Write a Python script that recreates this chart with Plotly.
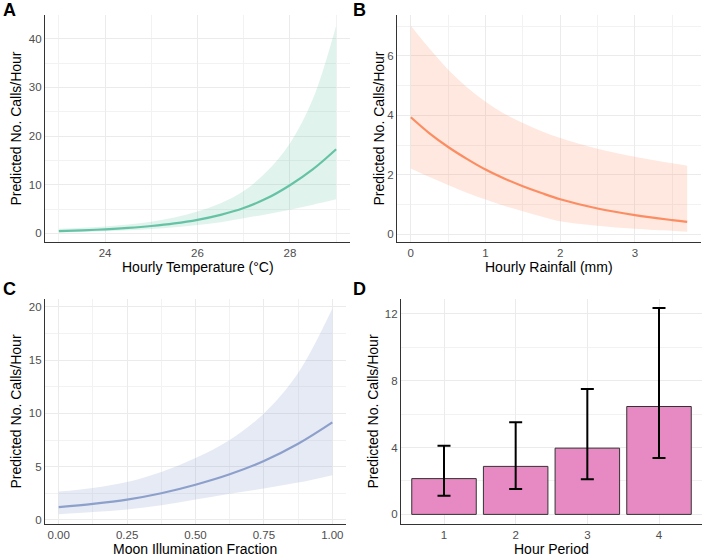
import plotly.graph_objects as go

W, H = 702, 557

# ---------------- data ----------------
temp_x = [23, 23.5, 24, 24.5, 25, 25.5, 26, 26.5, 27, 27.5, 28, 28.5, 29]
temp_mean = [0.45, 0.62, 0.84, 1.13, 1.52, 2.05, 2.78, 3.8, 5.2, 7.2, 9.9, 13.2, 17.3]
temp_upper = [0.95, 1.15, 1.4, 1.8, 2.4, 3.25, 4.5, 6.2, 8.7, 12.7, 18.5, 27.7, 42.7]
temp_lower = [0.2, 0.3, 0.45, 0.65, 0.9, 1.25, 1.7, 2.3, 3.1, 3.95, 4.85, 5.9, 7.0]

rain_x = [0, 0.25, 0.5, 0.75, 1.0, 1.25, 1.5, 1.75, 2.0, 2.5, 3.0, 3.5, 3.7]
rain_mean = [3.94, 3.40, 2.94, 2.54, 2.18, 1.88, 1.62, 1.39, 1.18, 0.87, 0.65, 0.48, 0.42]
rain_upper = [7.02, 6.25, 5.54, 4.95, 4.46, 4.06, 3.75, 3.47, 3.24, 2.88, 2.61, 2.39, 2.31]
rain_lower = [2.22, 1.93, 1.66, 1.40, 1.17, 0.96, 0.78, 0.60, 0.44, 0.29, 0.19, 0.12, 0.09]

moon_x = [0, 0.125, 0.25, 0.375, 0.5, 0.625, 0.75, 0.875, 1.0]
moon_mean = [1.2, 1.5, 1.9, 2.5, 3.3, 4.28, 5.53, 7.15, 9.16]
moon_upper = [2.66, 3.0, 3.55, 4.5, 5.8, 7.5, 10.0, 13.8, 19.85]
moon_lower = [0.53, 0.74, 0.98, 1.36, 1.9, 2.45, 2.95, 3.5, 4.2]

hour_period = ["1", "2", "3", "4"]
hour_mean = [2.14, 2.87, 3.96, 6.45]
hour_upper = [4.11, 5.51, 7.50, 12.34]
hour_lower = [1.11, 1.52, 2.10, 3.37]

y_title = "Predicted No. Calls/Hour"

# ---------------- styling ----------------
FONT = "Liberation Sans, Arial, Helvetica, sans-serif"
GRID = "#EBEBEB"
MINOR = "#F2F2F2"
AXLINE = "#333333"
TICKC = "#4D4D4D"
TICKSIZE = 11.5

def px_x(p):
    return p / W

def px_y(p):
    return 1 - p / H

fig = go.Figure()

def band(x, lo, hi, fillc, linec, mean, xa, ya):
    fig.add_trace(go.Scatter(x=x, y=lo, mode="lines", line=dict(width=0, shape="spline"),
                             hoverinfo="skip", showlegend=False, xaxis=xa, yaxis=ya))
    fig.add_trace(go.Scatter(x=x, y=hi, mode="lines", line=dict(width=0, shape="spline"),
                             fill="tonexty", fillcolor=fillc, hoverinfo="skip",
                             showlegend=False, xaxis=xa, yaxis=ya))
    fig.add_trace(go.Scatter(x=x, y=mean, mode="lines", line=dict(width=2.2, color=linec, shape="spline"),
                             showlegend=False, xaxis=xa, yaxis=ya))

band(temp_x, temp_lower, temp_upper, "rgba(102,194,165,0.2)", "#66C2A5", temp_mean, "x", "y")
band(rain_x, rain_lower, rain_upper, "rgba(252,141,98,0.2)", "#FC8D62", rain_mean, "x2", "y2")
band(moon_x, moon_lower, moon_upper, "rgba(141,160,203,0.22)", "#8DA0CB", moon_mean, "x3", "y3")

fig.add_trace(go.Bar(
    x=hour_period, y=hour_mean, width=0.9,
    marker=dict(color="#E78AC3", line=dict(color="#333333", width=1)),
    error_y=dict(type="data", symmetric=False,
                 array=[u - m for u, m in zip(hour_upper, hour_mean)],
                 arrayminus=[m - l for m, l in zip(hour_mean, hour_lower)],
                 color="black", thickness=2, width=6.5),
    showlegend=False, xaxis="x4", yaxis="y4"))

def axis(domain, rng, tick0, dtick, mtick0, mdtick, fmt=None, anchor=None):
    d = dict(domain=domain, range=rng, tick0=tick0, dtick=dtick, tickmode="linear",
             showgrid=True, gridcolor=GRID, gridwidth=1, zeroline=False,
             showline=True, linecolor=AXLINE, linewidth=1.3, ticks="",
             tickfont=dict(size=TICKSIZE, color=TICKC, family=FONT), anchor=anchor)
    if mdtick is not None:
        d["minor"] = dict(showgrid=True, gridcolor=MINOR, gridwidth=0.8, tick0=mtick0, dtick=mdtick)
    if fmt:
        d["tickformat"] = fmt
    return d

# panel pixel boxes
A = (45, 350, 15, 243)
B = (397, 701, 15, 243)
C = (45, 346, 300, 526)
D = (401, 702, 300, 526)

def dom(box):
    x0, x1, y0, y1 = box
    return [px_x(x0), px_x(x1)], [px_y(y1), px_y(y0)]

ax, ay = dom(A)
bx, by = dom(B)
cx, cy = dom(C)
dx, dy = dom(D)

layout = dict(
    width=W, height=H, margin=dict(l=0, r=0, t=0, b=0),
    paper_bgcolor="white", plot_bgcolor="white",
    font=dict(family=FONT, color="black"),
    bargap=0.1,
    xaxis=axis(ax, [22.7, 29.3], 24, 2, 23, 1, anchor="y"),
    yaxis=axis(ay, [-1.8, 44.9], 0, 10, 5, 10, anchor="x"),
    xaxis2=axis(bx, [-0.185, 3.885], 0, 1, 0.5, 1, anchor="y2"),
    yaxis2=axis(by, [-0.26, 7.38], 0, 2, 1, 2, anchor="x2"),
    xaxis3=axis(cx, [-0.05, 1.05], 0, 0.25, 0.125, 0.25, fmt=".2f", anchor="y3"),
    yaxis3=axis(cy, [-0.4, 20.75], 0, 5, 2.5, 5, anchor="x3"),
    yaxis4=axis(dy, [-0.58, 12.88], 0, 4, 2, 4, anchor="x4"),
)
layout["xaxis4"] = dict(domain=dx, range=[-0.6, 3.6], type="category", anchor="y4",
                        showgrid=True, gridcolor=GRID, gridwidth=1, zeroline=False,
                        showline=True, linecolor=AXLINE, linewidth=1.3, ticks="",
                        tickfont=dict(size=TICKSIZE, color=TICKC, family=FONT))
fig.update_layout(**layout)

ann = []
def text(x, y, t, size=14, angle=0, bold=False):
    ann.append(dict(x=px_x(x), y=px_y(y), xref="paper", yref="paper", text=("<b>%s</b>" % t if bold else t),
                    showarrow=False, textangle=angle, xanchor="center", yanchor="middle",
                    font=dict(size=size, family=FONT, color="black")))

# panel letters
text(9, 10, "A", 18, bold=True)
text(360, 10, "B", 18, bold=True)
text(9, 290, "C", 18, bold=True)
text(360, 290, "D", 18, bold=True)
# x titles
text((A[0] + A[1]) / 2, 268, "Hourly Temperature (°C)")
text((B[0] + B[1]) / 2, 268, "Hourly Rainfall (mm)")
text((C[0] + C[1]) / 2, 550.5, "Moon Illumination Fraction")
text((D[0] + D[1]) / 2, 550.5, "Hour Period")
# y titles
text(16, (A[2] + A[3]) / 2, y_title, angle=-90)
text(379, (B[2] + B[3]) / 2, y_title, angle=-90)
text(16, (C[2] + C[3]) / 2, y_title, angle=-90)
text(373, (D[2] + D[3]) / 2, y_title, angle=-90)

fig.update_layout(annotations=ann)
fig.write_html("out.html")
